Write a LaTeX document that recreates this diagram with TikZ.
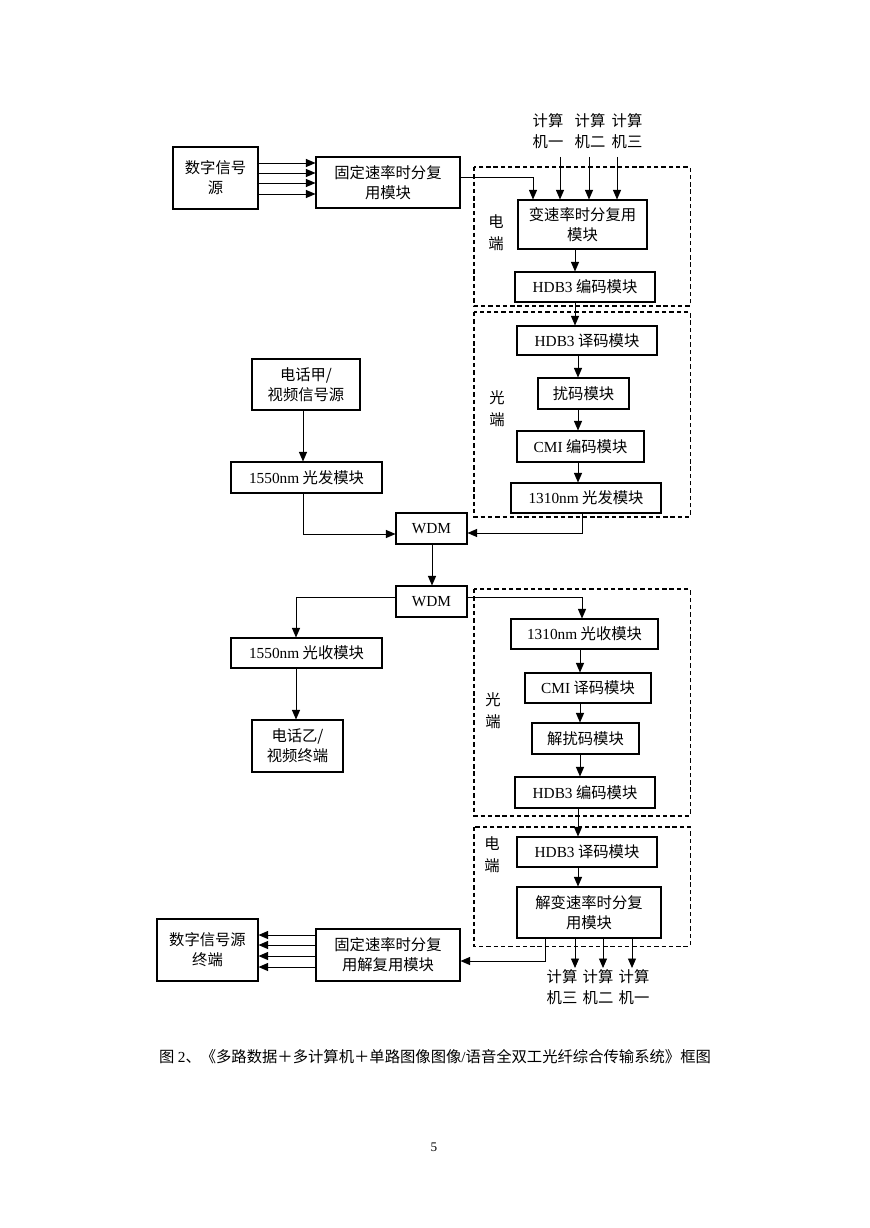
\documentclass[tikz,border=0pt]{standalone}
\usepackage{fontspec}
\setmainfont{Noto Sans CJK SC}
\newfontfamily\en{Liberation Serif}
\usetikzlibrary{arrows.meta}
\tikzset{
  box/.style={draw, line width=0.75pt, inner sep=0pt, align=center, font=\fontsize{10.5}{13.7}\selectfont},
  arr/.style={line width=0.6pt, -{Triangle[length=6.5pt,width=5.5pt]}},
  ln/.style={line width=0.6pt},
  dbox/.style={draw, line width=0.7pt, dash pattern=on 3pt off 2pt},
  lbl/.style={inner sep=0pt, align=center, font=\fontsize{10.5}{14.4}\selectfont},
  side/.style={inner sep=0pt, align=center, font=\fontsize{10.5}{15.2}\selectfont},
}
\newcommand\bx[6]{\node[box, minimum width={(#4-#2)*0.685pt}, minimum height={(#5-#3)*0.685pt}] (#1) at ({(#2+#4)/2},{(#3+#5)/2}) {#6};}
\begin{document}
\begin{tikzpicture}[x=0.685pt,y=-0.685pt]
\path[use as bounding box, fill=white] (0,0) rectangle (869,1228);

% dashed groups
\draw[dbox] (474,167) rectangle (690,306);
\draw[dbox] (474,312) rectangle (690,517);
\draw[dbox] (474,589) rectangle (690,816);
\draw[dbox] (474,827) rectangle (690,946);

% boxes
\bx{src}{173}{147}{258}{209}{数字信号\\源}
\bx{fix}{316}{157}{460}{208}{固定速率时分复\\用模块}
\bx{var}{518}{200}{647}{249}{变速率时分复用\\模块}
\bx{henc}{515}{272}{655}{302}{{\en HDB3} 编码模块}
\bx{hdec}{517}{326}{657}{355}{{\en HDB3} 译码模块}
\bx{scr}{538}{378}{629}{409}{扰码模块}
\bx{cenc}{517}{431}{644}{462}{{\en CMI} 编码模块}
\bx{txb}{511}{483}{661}{513}{{\en 1310nm} 光发模块}
\bx{telA}{252}{359}{360}{410}{电话甲/\\视频信号源}
\bx{txa}{231}{462}{382}{493}{{\en 1550nm} 光发模块}
\bx{wdmA}{396}{513}{467}{544}{\en WDM}
\bx{wdmB}{396}{586}{467}{617}{\en WDM}
\bx{rxa}{231}{638}{382}{668}{{\en 1550nm} 光收模块}
\bx{telB}{252}{720}{343}{772}{电话乙/\\视频终端}
\bx{rxb}{511}{619}{658}{649}{{\en 1310nm} 光收模块}
\bx{cdec}{525}{673}{651}{703}{{\en CMI} 译码模块}
\bx{dscr}{532}{723}{639}{754}{解扰码模块}
\bx{hencB}{515}{777}{655}{808}{{\en HDB3} 编码模块}
\bx{hdecB}{517}{837}{657}{867}{{\en HDB3} 译码模块}
\bx{dvar}{517}{887}{661}{938}{解变速率时分复\\用模块}
\bx{fixB}{316}{929}{460}{981}{固定速率时分复\\用解复用模块}
\bx{dst}{157}{919}{258}{981}{数字信号源\\终端}

% side labels
\node[side] (e1) at (496,233) {电\\端};
\node[side] (o1) at (497,409) {光\\端};
\node[side] (o2) at (493,711) {光\\端};
\node[side] (e2) at (492,855) {电\\端};

% computer labels
\node[lbl] (k1) at (548,131.5) {计算\\机一};
\node[lbl] (k2) at (590,131.5) {计算\\机二};
\node[lbl] (k3) at (627,131.5) {计算\\机三};
\node[lbl] (m3) at (562,987.5) {计算\\机三};
\node[lbl] (m2) at (598,987.5) {计算\\机二};
\node[lbl] (m1) at (634,987.5) {计算\\机一};
\coordinate (t1) at (560,157);
\coordinate (t2) at (589,157);
\coordinate (t3) at (617,157);
\coordinate (b1) at (575,968);
\coordinate (b2) at (603,968);
\coordinate (b3) at (632,968);

% connectors top
\foreach \yy in {163,173,183,194} \draw[arr] (src.east |- 0,\yy) -- (fix.west |- 0,\yy);
\draw[arr] (fix.east |- 0,177) -| (var.north -| 533,0);
\draw[arr] (t1) -- (var.north -| t1);
\draw[arr] (t2) -- (var.north -| t2);
\draw[arr] (t3) -- (var.north -| t3);
\draw[arr] (var.south -| 575,0) -- (henc.north -| 575,0);
\draw[arr] (henc.south -| 575,0) -- (hdec.north -| 575,0);
\draw[arr] (hdec.south -| 578,0) -- (scr.north -| 578,0);
\draw[arr] (scr.south -| 578,0) -- (cenc.north -| 578,0);
\draw[arr] (cenc.south -| 578,0) -- (txb.north -| 578,0);

% middle
\draw[arr] (telA.south -| 303,0) -- (txa.north -| 303,0);
\draw[arr] (txa.south -| 303,0) |- (wdmA.west |- 0,534);
\draw[arr] (txb.south -| 582,0) |- (wdmA.east |- 0,533);
\draw[arr] (wdmA.south -| 432,0) -- (wdmB.north -| 432,0);
\draw[arr] (wdmB.west |- 0,597) -| (rxa.north -| 296,0);
\draw[arr] (rxa.south -| 296,0) -- (telB.north -| 296,0);
\draw[arr] (wdmB.east |- 0,597) -| (rxb.north -| 582,0);
\draw[arr] (rxb.south -| 580,0) -- (cdec.north -| 580,0);
\draw[arr] (cdec.south -| 580,0) -- (dscr.north -| 580,0);
\draw[arr] (dscr.south -| 580,0) -- (hencB.north -| 580,0);
\draw[arr] (hencB.south -| 578,0) -- (hdecB.north -| 578,0);
\draw[arr] (hdecB.south -| 578,0) -- (dvar.north -| 578,0);

% bottom
\draw[arr] (dvar.south -| 545,0) |- (fixB.east |- 0,961);
\draw[arr] (dvar.south -| b1) -- (b1);
\draw[arr] (dvar.south -| b2) -- (b2);
\draw[arr] (dvar.south -| b3) -- (b3);
\foreach \yy in {935,945,956,967} \draw[arr] (fixB.west |- 0,\yy) -- (dst.east |- 0,\yy);

% caption and page number
\node[inner sep=0pt, font=\fontsize{10.5}{13}\selectfont] (cap) at (435,1057) {图 {\en 2}、《多路数据＋多计算机＋单路图像图像{\en /}语音全双工光纤综合传输系统》框图};
\node[inner sep=0pt, font=\en\fontsize{9}{11}\selectfont] (pg) at (434,1147) {5};
\end{tikzpicture}
\end{document}
